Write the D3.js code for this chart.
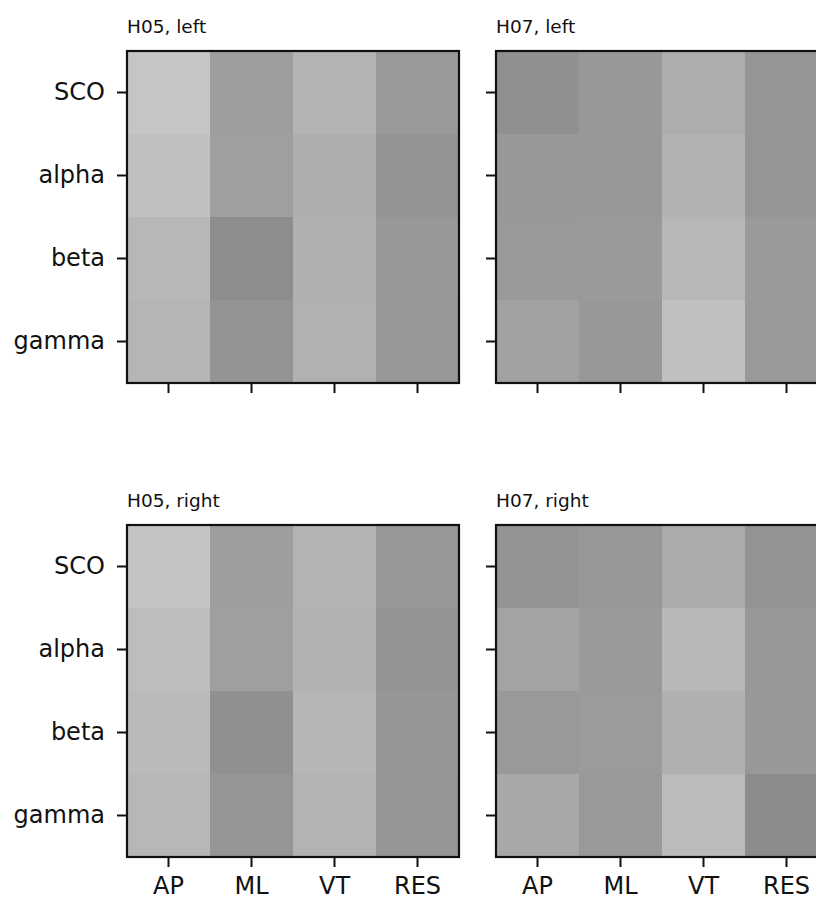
<!DOCTYPE html>
<html>
<head>
<meta charset="utf-8">
<script src="https://cdn.jsdelivr.net/npm/d3@7"></script>
<style>
  body { margin: 0; background: #fff; }
  svg { display: block; font-family: "DejaVu Sans", sans-serif; }
</style>
</head>
<body>
<div id="chart"></div>
<script>
// kategorie
var rowLabels = ["SCO", "alpha", "beta", "gamma"];
var colLabels = ["AP", "ML", "VT", "RES"];

// wartości (poziom szarości, 0-255)
var h05Left = [
  [197, 158, 180, 153],
  [192, 159, 174, 147],
  [183, 141, 176, 152],
  [181, 148, 177, 151]
];
var h07Left = [
  [144, 152, 173, 150],
  [152, 152, 178, 149],
  [153, 154, 183, 154],
  [161, 152, 192, 153]
];
var h05Right = [
  [196, 158, 179, 151],
  [189, 159, 178, 148],
  [186, 144, 182, 150],
  [183, 149, 179, 149]
];
var h07Right = [
  [148, 152, 171, 148],
  [163, 154, 184, 152],
  [153, 155, 176, 152],
  [168, 153, 187, 140]
];

var panels = [
  { title: "H05, left",  data: h05Left,  col: 0, row: 0 },
  { title: "H07, left",  data: h07Left,  col: 1, row: 0 },
  { title: "H05, right", data: h05Right, col: 0, row: 1 },
  { title: "H07, right", data: h07Right, col: 1, row: 1 }
];

var width = 816, height = 900;
var panelSize = 332;
var lefts = [127, 496];
var tops = [51, 525];

var svg = d3.select("#chart")
  .append("svg")
  .attr("width", width)
  .attr("height", height);

var color = d3.scaleLinear().domain([0, 255]).range(["#000000", "#ffffff"]);

var x = d3.scaleBand().domain(colLabels).range([0, panelSize]);
var y = d3.scaleBand().domain(rowLabels).range([0, panelSize]);

panels.forEach(function (p) {
  var g = svg.append("g")
    .attr("transform", "translate(" + lefts[p.col] + "," + tops[p.row] + ")");

  // komórki
  var cells = [];
  p.data.forEach(function (r, i) {
    r.forEach(function (v, j) {
      cells.push({ row: rowLabels[i], col: colLabels[j], value: v });
    });
  });

  g.selectAll(".cell")
    .data(cells)
    .enter()
    .append("rect")
    .attr("class", "cell")
    .attr("x", function (d) { return x(d.col); })
    .attr("y", function (d) { return y(d.row); })
    .attr("width", x.bandwidth() + 0.5)
    .attr("height", y.bandwidth() + 0.5)
    .style("fill", function (d) { return color(d.value); });

  // oś X
  var xAxis = d3.axisBottom(x).tickSize(10).tickPadding(10);
  if (p.row === 0) xAxis.tickFormat("");
  var gx = g.append("g")
    .attr("transform", "translate(0," + panelSize + ")")
    .call(xAxis);

  // oś Y
  var yAxis = d3.axisLeft(y).tickSize(10).tickPadding(12);
  if (p.col === 1) yAxis.tickFormat("");
  var gy = g.append("g").call(yAxis);

  [gx, gy].forEach(function (a) {
    a.select(".domain").remove();
    a.selectAll(".tick line").attr("stroke", "#111").attr("stroke-width", 2);
    a.selectAll(".tick text")
      .attr("fill", "#111")
      .style("font-size", "24px")
      .style("font-family", "DejaVu Sans, sans-serif");
  });
  gx.selectAll(".tick text").attr("dy", "0.71em");

  // ramka
  g.append("rect")
    .attr("width", panelSize)
    .attr("height", panelSize)
    .attr("fill", "none")
    .attr("stroke", "#111")
    .attr("stroke-width", 2.2);

  // tytuł
  g.append("text")
    .attr("x", 0)
    .attr("y", -18)
    .attr("fill", "#111")
    .style("font-size", "18.5px")
    .text(p.title);
});
</script>
</body>
</html>
